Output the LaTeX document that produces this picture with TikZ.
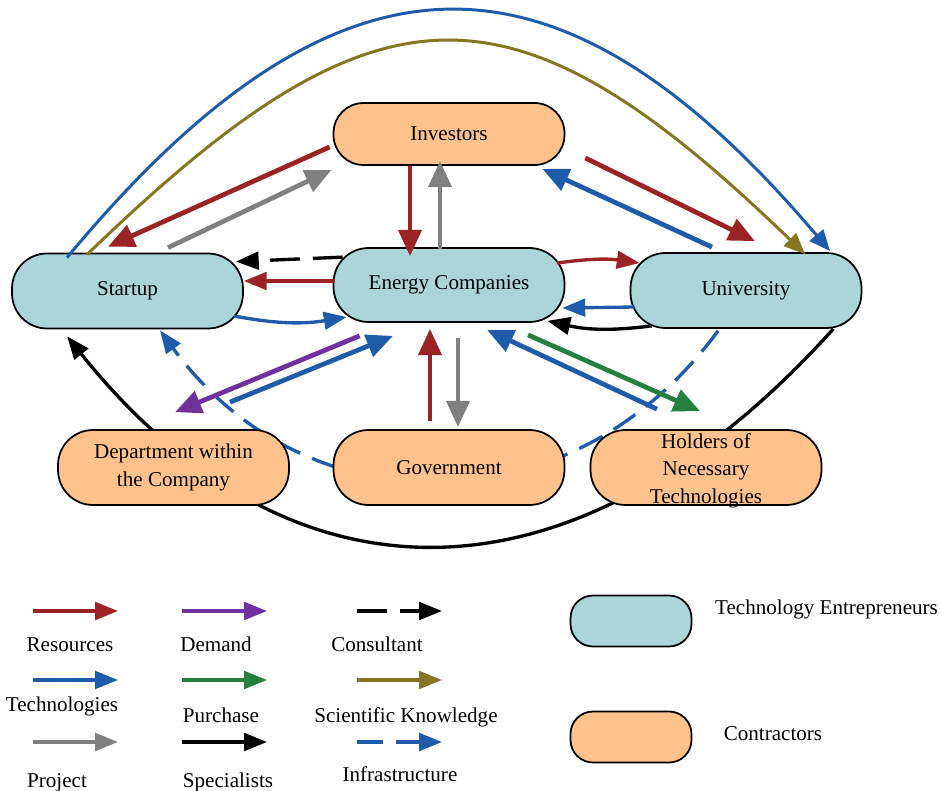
\documentclass[tikz,border=0pt]{standalone}
\usepackage{fontspec}
\setmainfont{Liberation Serif}
\usetikzlibrary{arrows.meta,calc,backgrounds}

\definecolor{entrefill}{RGB}{171,213,217}
\definecolor{contrfill}{RGB}{255,194,140}
\definecolor{resred}{RGB}{155,35,38}
\definecolor{techblue}{RGB}{31,91,171}
\definecolor{projgray}{RGB}{128,128,128}
\definecolor{dempurple}{RGB}{112,48,160}
\definecolor{purgreen}{RGB}{35,128,62}
\definecolor{sciolive}{RGB}{134,117,33}

\tikzset{
  actor/.style={rectangle,rounded corners=0.7cm,draw,line width=1pt,minimum width=4.62cm,minimum height=1.5cm,align=center,font=\fontsize{12}{15.6}\selectfont},
  entre/.style={actor,fill=entrefill},
  contr/.style={actor,fill=contrfill},
  key/.style={anchor=base,inner sep=0pt,font=\fontsize{12}{14.4}\selectfont},
  flow/.style={line width=1.9pt,-{Triangle[length=13pt,width=10pt]}},
  heavy/.style={line width=2.7pt,-{Triangle[length=15pt,width=13pt]}},
  wide/.style={line width=1.7pt,-{Triangle[length=12pt,width=10pt]}},
  res/.style={flow,resred},
  tech/.style={flow,techblue},
  proj/.style={flow,projgray},
  dem/.style={flow,dempurple},
  purch/.style={flow,purgreen},
  spec/.style={flow,black},
  cons/.style={flow,black,dash pattern=on 17pt off 7.4pt},
  sci/.style={flow,sciolive},
  infra/.style={flow,techblue,dash pattern=on 15pt off 7.4pt}
}

\begin{document}
\begin{tikzpicture}[x=0.02cm,y=-0.02cm]
\useasboundingbox (0,0) rectangle (941,791);

% actors
\node[contr,minimum height=1.24cm,rounded corners=0.6cm] (inv) at (449,134) {Investors};
\node[entre] (startup) at (127.5,291) {Startup};
\node[entre,minimum height=1.48cm] (energy) at (449,285) {Energy Companies};
\node[entre] (uni) at (746,290.5) {University};
\node[contr] (dept) at (173.5,467.5) {Department within\\the Company};
\node[contr] (gov) at (449,467.5) {Government};
\node[contr] (holders) at (706,467.5) {\smash{\raisebox{-4.5pt}{\begin{tabular}{@{}c@{}}Holders of\\Necessary\\Technologies\end{tabular}}}};

% long links behind the boxes
\begin{scope}[on background layer]
  \draw[spec] ($(uni.south east)+(-29,0)$) .. controls (575,616) and (291,616) .. ($(startup.south west)+(56,7)$);
  \draw[infra] ($(uni.south)+(-28,2)$) .. controls (572,530) and (306,530) .. ($(startup.south)+(32.5,1)$);
\end{scope}

% arcs over the top
\draw[tech,wide] ($(startup.north)+(-60.5,5)$) .. controls (339,-70) and (558,-70) .. ($(uni.north)+(84,-1)$);
\draw[sci,wide] ($(startup.north)+(-40.5,2)$) .. controls (380,-29) and (512,-29) .. ($(uni.north)+(59,2)$);

% investors
\draw[res,heavy] ($(inv.west)+(-3,13)$) -- ($(startup.north)+(-19.5,-6)$);
\draw[proj,heavy] ($(startup.north)+(40.5,-5)$) -- ($(inv.south west)+(-1,4)$);
\draw[res,heavy] ($(inv.south)+(-39,0)$) -- ($(energy.north)+(-39,9)$);
\draw[proj,heavy] ($(energy.north)+(-9,2)$) -- ($(inv.south)+(-9,-5)$);
\draw[res,heavy] ($(inv.east)+(20,24)$) -- ($(uni.north)+(9,-11)$);
\draw[tech,heavy] ($(uni.north)+(-34,-5)$) -- ($(inv.south east)+(-23,3)$);

% middle row
\draw[cons] ($(energy.north west)+(10,10)$) -- ($(startup.north east)+(-8,9)$);
\draw[res] ($(energy.west)+(2,-4)$) -- ($(startup.east)+(0,-10)$);
\draw[tech] ($(startup.east)+(-10,25)$) to[bend right=10] ($(energy.west)+(14,32)$);
\draw[res] ($(energy.east)+(-8,-22)$) to[bend left=8] ($(uni.west)+(10,-27.5)$);
\draw[tech] ($(uni.west)+(5,16.5)$) -- ($(energy.east)+(-3,23)$);
\draw[spec] ($(uni.south west)+(22,-3)$) to[bend left=10] ($(energy.south east)+(-18,-2)$);

% lower row
\draw[res,heavy] ($(gov.north)+(-19,-8)$) -- ($(energy.south)+(-19,6)$);
\draw[proj,heavy] ($(energy.south)+(9,15)$) -- ($(gov.north)+(9,-2)$);
\draw[tech,heavy] ($(holders.north)+(-49,-20)$) -- ($(energy.south)+(38,7)$);
\draw[purch,heavy] ($(energy.south)+(79,12)$) -- ($(holders.north)+(-6,-18)$);
\draw[dem,heavy] ($(energy.south west)+(27,13)$) -- ($(dept.north)+(1.5,-17)$);
\draw[tech,heavy] ($(dept.north)+(56.5,-27)$) -- ($(energy.south)+(-56,13)$);

% legend
\foreach \sty/\xa/\ya in {res/33/611,dem/182/611,cons/357/611,tech/33/680,purch/182/680,sci/357/680,proj/33/742,spec/182/742,infra/357/742}
  \draw[\sty] (\xa,\ya) -- ++(85,0);
\node[key] (lres) at (70,651) {Resources};
\node[key] (ldem) at (216,651) {Demand};
\node[key] (lcons) at (377,651) {Consultant};
\node[key] (ltech) at (62,711) {Technologies};
\node[key] (lpurch) at (221,722) {Purchase};
\node[key] (lsci) at (406,722) {Scientific Knowledge};
\node[key] (lproj) at (57,787) {Project};
\node[key] (lspec) at (228,787) {Specialists};
\node[key] (linfra) at (400,781) {Infrastructure};
\node[entre,minimum width=2.42cm,minimum height=1.02cm,rounded corners=0.45cm] (kentre) at (631,621) {};
\node[contr,minimum width=2.42cm,minimum height=1.02cm,rounded corners=0.45cm] (kcontr) at (631,737) {};
\node[key] (tentre) at (826.5,614.7) {Technology Entrepreneurs};
\node[key] (tcontr) at (773,740.7) {Contractors};
\end{tikzpicture}
\end{document}
